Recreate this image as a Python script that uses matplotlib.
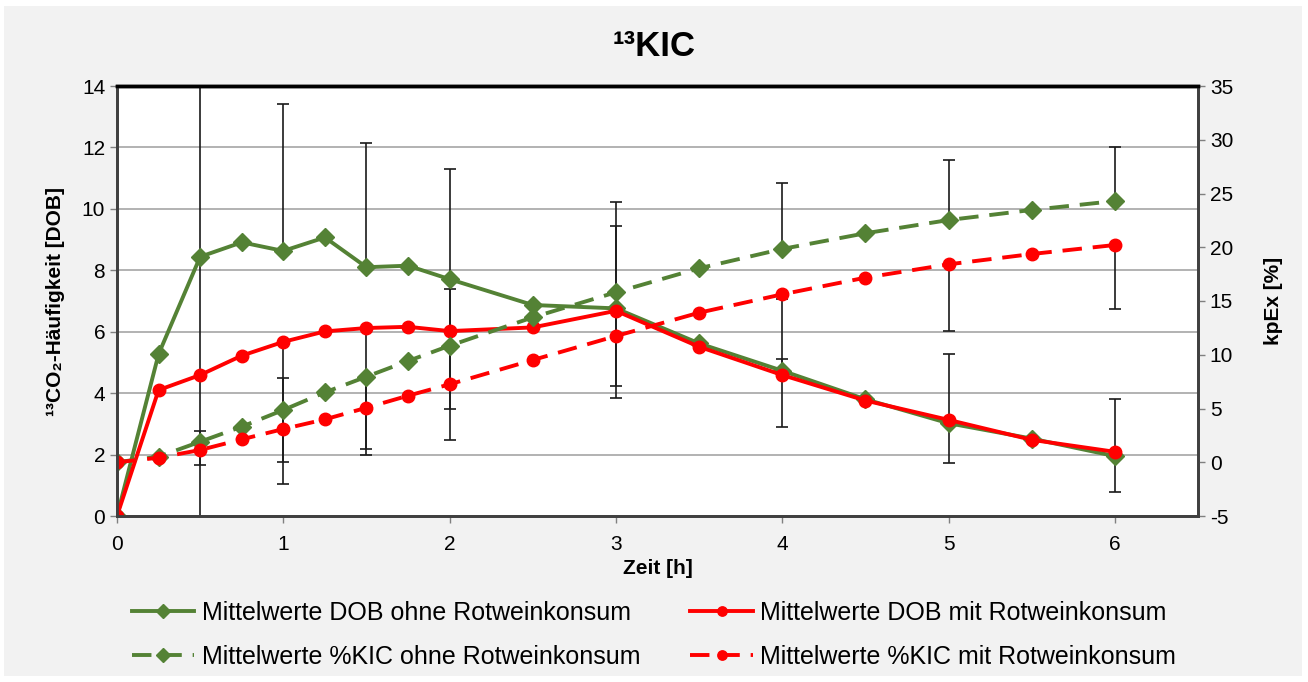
import numpy as np
from matplotlib import pyplot as plt
from matplotlib.patches import Rectangle

plt.rcParams['font.family'] = ['Liberation Sans', 'DejaVu Sans']
plt.rcParams['axes.unicode_minus'] = False

# data
zeit = [0, 0.25, 0.5, 0.75, 1, 1.25, 1.5, 1.75, 2, 2.5, 3, 3.5, 4, 4.5, 5, 5.5, 6]
dob_ohne = [0, 5.27, 8.44, 8.91, 8.63, 9.07, 8.10, 8.15, 7.71, 6.87, 6.76, 5.62, 4.73, 3.80, 3.02, 2.52, 1.95]
dob_mit = [0, 4.10, 4.59, 5.22, 5.67, 6.01, 6.12, 6.16, 6.02, 6.14, 6.68, 5.51, 4.59, 3.76, 3.13, 2.48, 2.09]
kic_ohne = [0, 0.52, 1.91, 3.31, 4.86, 6.50, 7.96, 9.42, 10.84, 13.48, 15.81, 18.04, 19.84, 21.3, 22.53, 23.47, 24.3]
kic_mit = [0, 0.42, 1.14, 2.13, 3.09, 3.99, 5.07, 6.19, 7.25, 9.51, 11.74, 13.91, 15.62, 17.17, 18.41, 19.37, 20.21]

# error bar segments (in DOB units)
err_t = [0.5, 0.5, 1, 1, 1, 1.5, 1.5, 1.5, 2, 2, 3, 3, 4, 4, 4, 5, 5, 5, 6, 6, 6]
err_lo = [-0.5, 1.66, 8.63, 1.04, 1.75, 8.10, 1.99, 2.17, 2.47, 3.47, 3.83, 4.23,
          8.69, 2.89, 4.66, 9.64, 6.02, 1.72, 10.26, 6.74, 0.77]
err_hi = [17.0, 2.78, 13.41, 5.67, 4.50, 12.14, 6.12, 4.50, 11.29, 7.38, 10.22, 9.45,
          10.85, 7.06, 5.10, 11.59, 8.21, 5.27, 12.0, 8.82, 3.82]

green = '#548235'
red = '#ff0000'

fig = plt.figure(figsize=(13.08, 6.82), dpi=100, facecolor='white')
fig.patches.append(Rectangle((4 / 1308, 6 / 682), 1298 / 1308, 670 / 682,
                             transform=fig.transFigure, facecolor='#f2f2f2',
                             edgecolor='none', zorder=-10))

ax = fig.add_axes([117 / 1308, 1 - 516 / 682, (1198 - 117) / 1308, (516 - 86) / 682])
ax2 = ax.twinx()

# error bars
lo = np.array(err_lo)
hi = np.array(err_hi)
mid = (lo + hi) / 2
ax.errorbar(err_t, mid, yerr=(hi - lo) / 2, fmt='none', ecolor='#1a1a1a',
            elinewidth=1.2, capsize=4.5, capthick=1.2, zorder=2)

l1, = ax.plot(zeit, dob_ohne, color=green, lw=2.8, marker='D', ms=9, zorder=4,
              label='Mittelwerte DOB ohne Rotweinkonsum')
l2, = ax.plot(zeit, dob_mit, color=red, lw=2.8, marker='o', ms=9, zorder=5,
              label='Mittelwerte DOB mit Rotweinkonsum')
l3, = ax2.plot(zeit, kic_ohne, color=green, lw=2.8, ls=(0, (5, 2.8)), marker='D', ms=9,
               label='Mittelwerte %KIC ohne Rotweinkonsum')
l4, = ax2.plot(zeit, kic_mit, color=red, lw=2.8, ls=(0, (5, 2.8)), marker='o', ms=9,
               label='Mittelwerte %KIC mit Rotweinkonsum')

ax.set_xlim(0, 6.5)
ax.set_ylim(0, 14)
ax2.set_ylim(-5, 35)
ax.set_xticks(range(7))
ax.set_yticks(range(0, 15, 2))
ax2.set_yticks(range(-5, 36, 5))
ax.yaxis.grid(True, color='#a6a6a6', lw=1.2)
ax.set_axisbelow(True)
ax.set_facecolor('white')

for a in (ax, ax2):
    a.tick_params(labelsize=15, direction='out', length=5, width=1, color='#808080')
    for s in a.spines.values():
        s.set_linewidth(2)
        s.set_color('#404040')
    a.spines['top'].set_color('black')
    a.spines['top'].set_linewidth(2.5)
ax.tick_params(axis='x', pad=9)

ax.set_xlabel('Zeit [h]', fontsize=15, fontweight='bold', labelpad=3)
ax.set_ylabel('¹³CO₂-Häufigkeit [DOB]', fontsize=15, fontweight='bold', labelpad=12)
ax2.set_ylabel('kpEx [%]', fontsize=15, fontweight='bold', labelpad=22)
fig.text(0.5, 1 - 47 / 682, '¹³KIC', ha='center', va='center', fontsize=25,
         fontweight='bold')

fig.legend([l1, l3, l2, l4], [l.get_label() for l in (l1, l3, l2, l4)],
           loc='center', bbox_to_anchor=(0.5, 1 - 635 / 682), ncol=2, frameon=False,
           fontsize=18, handlelength=2.5, columnspacing=2.0, labelspacing=0.8,
           handletextpad=0.3, markerscale=0.75)

plt.savefig('out.png', dpi=100, facecolor=fig.get_facecolor())
